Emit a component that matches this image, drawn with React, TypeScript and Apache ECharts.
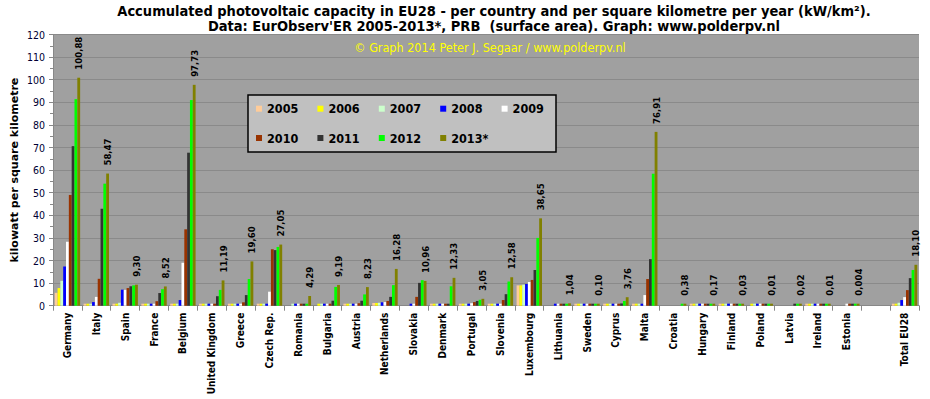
import React, { useEffect, useRef } from "react";
import * as echarts from "echarts";

const countries = [
  "Germany", "Italy", "Spain", "France", "Belgium", "United Kingdom", "Greece", "Czech Rep.",
  "Romania", "Bulgaria", "Austria", "Netherlands", "Slovakia", "Denmark", "Portugal", "Slovenia",
  "Luxembourg", "Lithuania", "Sweden", "Cyprus", "Malta", "Croatia", "Hungary", "Finland",
  "Poland", "Latvia", "Ireland", "Estonia", "", "Total EU28",
];

const years = ["2005", "2006", "2007", "2008", "2009", "2010", "2011", "2012", "2013*"];
const colors = ["#FFCC99", "#FFFF00", "#CCFFCC", "#0000FF", "#FFFFFF", "#993300", "#333333", "#00FF00", "#808000"];

const v2005 = [5.7, 0.1, 0.1, 0.05, 0.05, 0.05, 0.02, 0.01, null, null, 0.25, 1.2, null, 0.07, 0.03, 0.02, 9.0, null, 0.05, 0.05, 0.05, null, 0.01, 0.01, null, null, 0.01, null, null, 0.5];
const v2006 = [7.8, 0.15, 0.3, 0.05, 0.1, 0.05, 0.05, 0.01, null, 0.01, 0.25, 1.2, null, 0.07, 0.1, 0.02, 9.0, null, 0.05, 0.1, 0.05, null, 0.01, 0.01, 0.01, null, 0.01, null, null, 0.7];
const v2007 = [11.0, 0.3, 1.3, 0.1, 0.2, 0.05, 0.1, 0.05, 0.01, 0.01, 0.3, 1.3, null, 0.07, 0.2, 0.05, 9.3, null, 0.1, 0.2, 0.05, null, 0.01, 0.01, 0.01, null, 0.01, null, null, 1.3];
const v2008 = [17.3, 1.6, 7.1, 0.15, 2.5, 0.1, 0.15, 0.7, 0.01, 0.1, 0.4, 1.5, 0.01, 0.08, 0.6, 0.1, 9.6, 0.01, 0.1, 0.3, 0.1, null, 0.01, 0.01, 0.01, null, 0.01, null, null, 2.5];
const v2009 = [28.3, 3.9, 7.0, 0.4, 19.0, 0.1, 0.4, 6.2, 0.01, 0.05, 0.6, 1.6, 0.05, 0.1, 1.1, 0.4, 10.5, 0.01, 0.1, 0.4, 4.7, null, 0.01, 0.01, 0.01, null, 0.01, 0.01, null, 3.8];
const v2010 = [49.0, 11.9, 7.8, 2.0, 33.8, 0.4, 1.5, 25.0, 0.01, 0.8, 1.1, 2.1, 3.9, 0.2, 1.6, 2.5, 11.4, 0.01, 0.1, 0.6, 11.8, null, 0.02, 0.01, 0.01, null, 0.01, 0.01, null, 6.9];
const v2011 = [70.6, 42.9, 8.6, 5.6, 67.7, 4.2, 4.7, 24.6, 0.02, 2.2, 2.2, 3.9, 10.1, 0.4, 2.1, 5.1, 15.8, 0.02, 0.1, 1.0, 20.6, null, 0.03, 0.02, 0.01, 0.02, 0.01, 0.01, null, 12.2];
const v2012 = [91.4, 54.0, 9.0, 7.3, 91.0, 7.0, 11.8, 26.0, 0.5, 8.3, 5.0, 9.1, 11.3, 8.6, 2.6, 10.7, 30.0, 0.2, 0.1, 2.1, 58.4, 0.3, 0.1, 0.03, 0.01, 0.02, 0.01, 0.004, null, 15.8];
const v2013 = [100.88, 58.47, 9.3, 8.52, 97.73, 11.19, 19.6, 27.05, 4.29, 9.19, 8.23, 16.28, 10.96, 12.33, 3.05, 12.58, 38.65, 1.04, 0.1, 3.76, 76.91, 0.38, 0.17, 0.03, 0.01, 0.02, 0.01, 0.004, null, 18.1];

const seriesValues = [v2005, v2006, v2007, v2008, v2009, v2010, v2011, v2012, v2013];

const yTicks = { min: 0, max: 120, interval: 10 };

const titleLine1 = "Accumulated photovoltaic capacity in EU28 - per country and per square kilometre per year (kW/km\u00B2).";
const titleLine2 = "Data: EurObserv'ER 2005-2013*, PRB  (surface area). Graph: www.polderpv.nl";
const watermark = "\u00A9 Graph 2014 Peter J. Segaar / www.polderpv.nl";
const yName = "kilowatt per square kilometre";

const FONT = "'DejaVu Sans', Verdana, sans-serif";
const FONT_C = "'DejaVu Sans Condensed', 'DejaVu Sans', Tahoma, sans-serif";

function fmt(v: number): string {
  return v.toFixed(v < 0.01 ? 3 : 2).replace(".", ",");
}

export default function App() {
  const ref = useRef<HTMLDivElement>(null);
  useEffect(() => {
    if (!ref.current) return;
    const chart = echarts.init(ref.current, null, { renderer: "svg" });
    const legendCommon = {
      left: 256,
      orient: "horizontal",
      itemWidth: 6,
      itemHeight: 6,
      itemGap: 5.4,
      padding: 0,
      icon: "rect",
      selectedMode: false,
      z: 6,
      textStyle: {
        width: 45,
        fontSize: 12.5,
        fontWeight: "bold",
        fontFamily: FONT_C,
        color: "#000",
        lineHeight: 14,
      },
    };
    chart.setOption({
      animation: false,
      backgroundColor: "#FFFFFF",
      grid: {
        left: 53,
        right: 11,
        top: 34.5,
        bottom: 93.3,
        show: true,
        backgroundColor: "#A0A0A0",
        borderWidth: 0,
        containLabel: false,
        outerBoundsMode: "none",
      },
      legend: [
        { ...legendCommon, top: 101.7, data: years.slice(0, 5) },
        { ...legendCommon, top: 131, data: years.slice(5) },
      ],
      xAxis: {
        type: "category",
        data: countries,
        boundaryGap: true,
        axisLine: { show: true, lineStyle: { color: "#888888", width: 1 } },
        axisTick: { show: true, length: 5, interval: 0, lineStyle: { color: "#888888" } },
        axisLabel: {
          interval: 0,
          rotate: 90,
          margin: 7,
          fontSize: 10,
          fontWeight: "bold",
          fontFamily: FONT_C,
          color: "#000",
        },
        splitLine: { show: false },
      },
      yAxis: {
        type: "value",
        min: yTicks.min,
        max: yTicks.max,
        interval: yTicks.interval,
        name: yName,
        nameLocation: "middle",
        nameRotate: 90,
        nameGap: 33,
        nameMoveOverlap: false,
        nameTextStyle: { fontSize: 11, fontWeight: "bold", fontFamily: FONT, color: "#000" },
        axisLine: { show: true, lineStyle: { color: "#888888", width: 1 } },
        axisTick: { show: true, length: 4, lineStyle: { color: "#888888" } },
        minorTick: { show: true, splitNumber: 2, length: 3, lineStyle: { color: "#888888" } },
        axisLabel: { margin: 8, fontSize: 10.5, fontFamily: FONT_C, color: "#000033" },
        splitLine: { show: true, lineStyle: { color: "#8A8A8A", width: 1 } },
      },
      graphic: [
        {
          type: "text",
          x: 494,
          y: 11,
          style: { text: titleLine1, align: "center", verticalAlign: "middle", fontSize: 14.5, fontWeight: "bold", fontFamily: FONT_C, fill: "#000" },
        },
        {
          type: "text",
          x: 494,
          y: 26,
          style: { text: titleLine2, align: "center", verticalAlign: "middle", fontSize: 14.5, fontWeight: "bold", fontFamily: FONT_C, fill: "#000" },
        },
        {
          type: "text",
          x: 490,
          y: 47,
          z: 3,
          style: { text: watermark, align: "center", verticalAlign: "middle", fontSize: 12.5, fontFamily: FONT_C, fill: "#FFFF00" },
        },
        {
          type: "rect",
          z: 3,
          shape: { x: 248, y: 95, width: 308, height: 57 },
          style: { fill: "#C0C0C0", stroke: "#000", lineWidth: 1.5 },
        },
      ],
      series: seriesValues.map((vals, i) => ({
        name: years[i],
        type: "bar",
        data: vals,
        barGap: 0,
        barCategoryGap: "12%",
        barMinHeight: 2,
        itemStyle: { color: colors[i] },
        label:
          i === 8
            ? {
                show: true,
                position: "top",
                rotate: 90,
                align: "left",
                verticalAlign: "middle",
                distance: 8,
                fontSize: 9.5,
                fontWeight: "bold",
                fontFamily: FONT_C,
                color: "#000",
                formatter: (p: any) => (p.value == null ? "" : fmt(p.value)),
              }
            : { show: false },
      })),
    });
    return () => chart.dispose();
  }, []);
  return <div ref={ref} style={{ position: "absolute", left: 0, top: 0, width: 930, height: 399 }} />;
}
